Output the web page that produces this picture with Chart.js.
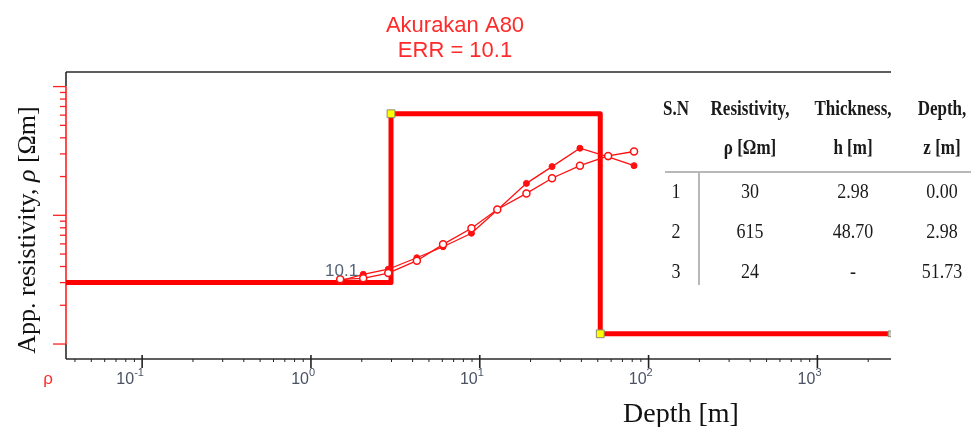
<!DOCTYPE html>
<html>
<head>
    <script src="https://cdn.jsdelivr.net/npm/chart.js@4/dist/chart.umd.min.js"></script>
    <style>
        body { margin: 0; background: #fff; }
    </style>
</head>
<body>

    <div style="width: 971px; height: 427px;">
        <canvas id="myChart" width="971" height="427"></canvas>
    </div>

    <script type="text/javascript">
        // sounding data (AB/2 spacing vs apparent resistivity)
        const spacing = [1.49, 2.04, 2.87, 4.24, 6.06, 8.93, 12.7, 18.9, 26.8, 39.2, 57.6, 82.0];
        const rhoField = [30.9, 34.8, 38.1, 46.8, 57.0, 72.5, 110, 177, 239, 332, 284, 243];
        const rhoCalc = [31.8, 32.4, 35.6, 44.4, 59.5, 79.3, 111, 148, 194, 243, 289, 313];

        // layered model as drawn
        const modelDepth = [0.0354, 2.98, 2.98, 51.73, 51.73, 2729];
        const modelRho = [30, 30, 615, 615, 12, 12];

        // table of layers
        const layerNo = ['1', '2', '3'];
        const layerRho = ['30', '615', '24'];
        const layerThick = ['2.98', '48.70', '-'];
        const layerDepth = ['0.00', '2.98', '51.73'];

        const xDecades = [-1, 0, 1, 2, 3];
        const yDecades = [10, 100, 1000];

        const xMin = 0.0354, xMax = 2729;
        const yMin = 7.65, yMax = 1298;

        function toPoints(xs, ys) {
            return xs.map((x, i) => ({ x: x, y: ys[i] }));
        }

        const framePlugin = {
            id: 'frame',
            beforeDatasetsDraw(chart) {
                const ctx = chart.ctx;
                const { left, top, right, bottom } = chart.chartArea;
                const xs = chart.scales.x, ys = chart.scales.y;
                ctx.save();
                ctx.lineCap = 'butt';
                // top and bottom borders
                ctx.strokeStyle = '#2b2b2b';
                ctx.lineWidth = 1.6;
                ctx.beginPath();
                ctx.moveTo(left, top); ctx.lineTo(right, top);
                ctx.moveTo(left, bottom); ctx.lineTo(right, bottom);
                ctx.stroke();
                // left border: black ends, red between 10 and 1000
                const y10 = ys.getPixelForValue(10), y1000 = ys.getPixelForValue(1000);
                ctx.beginPath();
                ctx.moveTo(left, top); ctx.lineTo(left, y1000);
                ctx.moveTo(left, y10); ctx.lineTo(left, bottom);
                ctx.stroke();
                ctx.strokeStyle = '#ff2020';
                ctx.beginPath();
                ctx.moveTo(left, y1000); ctx.lineTo(left, y10);
                ctx.stroke();
                // y ticks
                ctx.lineWidth = 1.3;
                yDecades.forEach(d => {
                    const yp = ys.getPixelForValue(d);
                    ctx.beginPath(); ctx.moveTo(left - 13, yp); ctx.lineTo(left, yp); ctx.stroke();
                    if (d < 1000) {
                        for (let m = 2; m <= 9; m++) {
                            const ym = ys.getPixelForValue(d * m);
                            ctx.beginPath(); ctx.moveTo(left - 6, ym); ctx.lineTo(left, ym); ctx.stroke();
                        }
                    }
                });
                // x ticks
                ctx.strokeStyle = '#222';
                xDecades.forEach(e => {
                    const base = Math.pow(10, e);
                    const xp = xs.getPixelForValue(base);
                    ctx.lineWidth = 1.6;
                    ctx.beginPath(); ctx.moveTo(xp, bottom - 4); ctx.lineTo(xp, bottom + 9); ctx.stroke();
                    ctx.lineWidth = 1;
                    for (let m = 2; m <= 9; m++) {
                        const v = base * m;
                        if (v > xMax) break;
                        const xm = xs.getPixelForValue(v);
                        ctx.beginPath(); ctx.moveTo(xm, bottom); ctx.lineTo(xm, bottom + 3); ctx.stroke();
                    }
                });
                for (let m = 4; m <= 9; m++) {
                    const xm = xs.getPixelForValue(0.01 * m);
                    ctx.beginPath(); ctx.moveTo(xm, bottom); ctx.lineTo(xm, bottom + 3); ctx.stroke();
                }
                ctx.restore();
            },
            afterDraw(chart) {
                const ctx = chart.ctx;
                const xs = chart.scales.x;
                ctx.save();

                // title
                ctx.fillStyle = '#ff2a2a';
                ctx.textAlign = 'center';
                ctx.textBaseline = 'alphabetic';
                ctx.font = '22px "Liberation Sans", Arial, sans-serif';
                ctx.fillText('Akurakan A80', 455, 32);
                ctx.fillText('ERR = 10.1', 455, 57);

                // x tick labels: 10 with raised exponent
                ctx.fillStyle = '#4a5264';
                xDecades.forEach(e => {
                    const xp = xs.getPixelForValue(Math.pow(10, e));
                    const xr = xp - (e < 0 ? 8 : 2);
                    ctx.font = '16px "Liberation Sans", Arial, sans-serif';
                    ctx.textAlign = 'right';
                    ctx.fillText('10', xr, 384);
                    ctx.font = '11px "Liberation Sans", Arial, sans-serif';
                    ctx.textAlign = 'left';
                    ctx.fillText(String(e), xr, 376);
                });

                // error label next to first point
                ctx.font = '17px "Liberation Sans", Arial, sans-serif';
                ctx.textAlign = 'right';
                ctx.fillStyle = '#56647a';
                ctx.fillText('10.1', xs.getPixelForValue(spacing[0]) + 18, 276);

                // red rho mark
                ctx.fillStyle = '#ff2a2a';
                ctx.textAlign = 'center';
                ctx.font = '17px "Liberation Sans", Arial, sans-serif';
                ctx.fillText('\u03C1', 48, 384);

                // x axis title
                ctx.fillStyle = '#111';
                ctx.font = '28px "Liberation Serif", "Times New Roman", serif';
                ctx.fillText('Depth [m]', 681, 422);

                // y axis title, with italic rho
                ctx.translate(35, 230);
                ctx.rotate(-Math.PI / 2);
                const fN = '26px "Liberation Serif", "Times New Roman", serif';
                const fI = 'italic 26px "Liberation Serif", "Times New Roman", serif';
                const parts = [['App. resistivity, ', fN], ['\u03C1', fI], [' [\u03A9m]', fN]];
                let total = 0;
                parts.forEach(p => { ctx.font = p[1]; total += ctx.measureText(p[0]).width; });
                let cx = -total / 2;
                ctx.textAlign = 'left';
                parts.forEach(p => { ctx.font = p[1]; ctx.fillText(p[0], cx, 0); cx += ctx.measureText(p[0]).width; });
                ctx.restore();

                // layer table
                ctx.save();
                ctx.fillStyle = '#1a1a1a';
                ctx.textAlign = 'center';
                const cols = [676, 750, 853, 942];
                const drawTall = (txt, x, y, font, sy) => {
                    ctx.save();
                    ctx.font = font;
                    ctx.translate(x, y);
                    ctx.scale(1, sy);
                    ctx.fillText(txt, 0, 0);
                    ctx.restore();
                };
                const hf = 'bold 17px "Liberation Serif", "Times New Roman", serif';
                const bf = '18px "Liberation Serif", "Times New Roman", serif';
                ['S.N', 'Resistivity,', 'Thickness,', 'Depth,'].forEach((t, i) => drawTall(t, cols[i], 115, hf, 1.18));
                ['', '\u03C1 [\u03A9m]', 'h [m]', 'z [m]'].forEach((t, i) => drawTall(t, cols[i], 154, hf, 1.18));
                const rowY = [198, 238, 278];
                layerNo.forEach((n, r) => {
                    drawTall(n, cols[0], rowY[r], bf, 1.2);
                    drawTall(layerRho[r], cols[1], rowY[r], bf, 1.2);
                    drawTall(layerThick[r], cols[2], rowY[r], bf, 1.2);
                    drawTall(layerDepth[r], cols[3], rowY[r], bf, 1.2);
                });
                ctx.strokeStyle = '#b8b8b8';
                ctx.lineWidth = 2;
                ctx.beginPath();
                ctx.moveTo(665, 172); ctx.lineTo(971, 172);
                ctx.moveTo(699, 172); ctx.lineTo(699, 285);
                ctx.stroke();
                ctx.restore();
            }
        };

        const data = {
            datasets: [{
                data: toPoints(modelDepth, modelRho),
                showLine: true,
                borderColor: '#ff0000',
                borderWidth: 5,
                borderJoinStyle: 'round',
                pointStyle: 'rect',
                pointRadius: ctx => (ctx.dataIndex === 2 || ctx.dataIndex === 4) ? 5.5 : (ctx.dataIndex === 5 ? 4 : 0),
                pointBackgroundColor: ctx => ctx.dataIndex === 5 ? '#c8c8c8' : '#ffff00',
                pointBorderColor: '#8a8a6a',
                pointBorderWidth: 1,
                order: 3
            }, {
                data: toPoints(spacing, rhoField),
                showLine: true,
                borderColor: '#ff1010',
                borderWidth: 1.3,
                pointRadius: 3,
                pointBackgroundColor: '#ff1010',
                pointBorderColor: '#ff1010',
                pointBorderWidth: 1,
                order: 2
            }, {
                data: toPoints(spacing, rhoCalc),
                showLine: true,
                borderColor: '#ff1010',
                borderWidth: 1.3,
                pointRadius: 3.5,
                pointBackgroundColor: '#ffffff',
                pointBorderColor: '#ff1010',
                pointBorderWidth: 1.5,
                order: 1
            }]
        };

        const config = {
            type: 'scatter',
            data: data,
            options: {
                responsive: false,
                animation: false,
                events: [],
                layout: { padding: { left: 66, top: 72, right: 80, bottom: 68 } },
                plugins: {
                    legend: { display: false },
                    title: { display: false },
                    tooltip: { enabled: false }
                },
                scales: {
                    x: { type: 'logarithmic', min: xMin, max: xMax, display: false },
                    y: { type: 'logarithmic', min: yMin, max: yMax, display: false }
                }
            },
            plugins: [framePlugin]
        };

        const chart = new Chart(
            document.getElementById('myChart'),
            config
        );
    </script>
</body>
</html>
